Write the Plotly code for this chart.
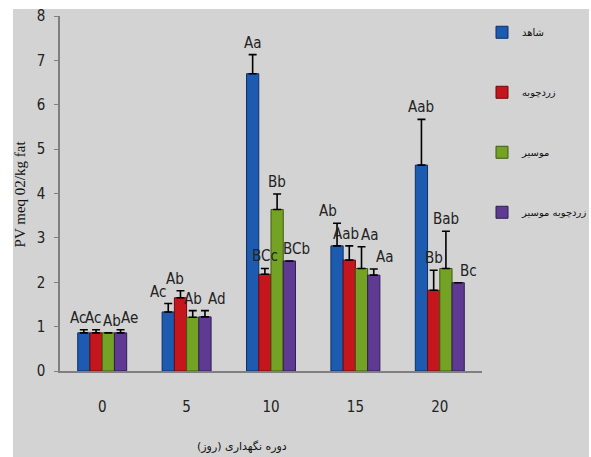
import plotly.graph_objects as go

# Storage period (days) and peroxide value per treatment
days = ["0", "5", "10", "15", "20"]
treatments = ["شاهد", "زردچوبه", "موسیر", "زردچوبه موسیر"]

pv_control = [0.86, 1.33, 6.70, 2.82, 4.64]
pv_turmeric = [0.86, 1.65, 2.18, 2.50, 1.82]
pv_shallot = [0.86, 1.21, 3.64, 2.31, 2.31]
pv_mix = [0.86, 1.22, 2.48, 2.16, 1.99]

err_control = [0.07, 0.19, 0.43, 0.51, 1.03]
err_turmeric = [0.07, 0.16, 0.13, 0.32, 0.45]
err_shallot = [0.0, 0.15, 0.35, 0.49, 0.84]
err_mix = [0.07, 0.14, 0.0, 0.14, 0.0]

lbl_control = ["Ac", "Ac", "Aa", "Ab", "Aab"]
lbl_turmeric = ["Ac", "Ab", "BCc", "Aab", "Bb"]
lbl_shallot = ["Ab", "Ab", "Bb", "Aa", "Bab"]
lbl_mix = ["Ae", "Ad", "BCb", "Aa", "Bc"]

values = [pv_control, pv_turmeric, pv_shallot, pv_mix]
errors = [err_control, err_turmeric, err_shallot, err_mix]
labels = [lbl_control, lbl_turmeric, lbl_shallot, lbl_mix]
fills = ["#1d5bb0", "#c4161c", "#74a225", "#5e3a92"]
edges = ["#0d2f66", "#6e0a0d", "#3e5a10", "#301d52"]

# small horizontal nudges (px) so neighbouring letter labels don't collide
label_nudge = [
    [-6, -10, 0, -9, 0],
    [-3, -5, 0, -3, 0],
    [4, 0, 0, 8, 0],
    [9, 12, 7, 11, 10],
]

LABEL_FONT = "DejaVu Sans Condensed, sans-serif"
BARGAP = 0.42
n = len(treatments)
bar_w = (1 - BARGAP) / n
xs = list(range(len(days)))

fig = go.Figure()

for j in range(n):
    fig.add_trace(go.Bar(
        x=xs, y=values[j], name=treatments[j], legendgroup=str(j),
        marker=dict(color=fills[j], line=dict(color=edges[j], width=1)),
        error_y=dict(type="data", array=errors[j], symmetric=False,
                     arrayminus=[0] * len(days), color="black",
                     thickness=1.6, width=4),
    ))

annotations = []
# letters of significance above each bar
for j in range(n):
    for i in xs:
        annotations.append(dict(
            x=i - (1 - BARGAP) / 2 + (j + 0.5) * bar_w, y=values[j][i] + errors[j][i],
            xref="x", yref="y", text=labels[j][i], showarrow=False,
            xanchor="center", yanchor="bottom", xshift=label_nudge[j][i], yshift=1,
            font=dict(family=LABEL_FONT, size=15, color="#222"),
        ))

annotations += [
    dict(text="PV meq 02/kg fat", xref="paper", yref="paper", x=-0.095, y=0.5,
         textangle=-90, showarrow=False, xanchor="center", yanchor="middle",
         font=dict(family="Liberation Serif", size=15, color="#111")),
    dict(text="دوره نگهداری (روز)", xref="paper", yref="paper", x=0.431, y=-0.214,
         showarrow=False, xanchor="center", yanchor="middle",
         font=dict(family="DejaVu Sans", size=11, color="#111")),
]

fig.update_layout(
    width=591, height=457,
    margin=dict(l=60, r=109, t=16, b=86, autoexpand=False),
    paper_bgcolor="white", plot_bgcolor="rgba(0,0,0,0)",
    barmode="group", bargap=BARGAP, bargroupgap=0,
    showlegend=True,
    legend=dict(x=1.0, y=0.995, xanchor="left", yanchor="top", itemwidth=30,
                bgcolor="rgba(0,0,0,0)", tracegroupgap=41,
                font=dict(family="DejaVu Sans", size=10, color="#111")),
    xaxis=dict(range=[-0.5, 4.5], tickmode="array", tickvals=xs, ticktext=days,
               showline=True, linecolor="#7f7f7f", linewidth=1.5, ticks="",
               showgrid=False, zeroline=False, ticklabelstandoff=21,
               tickfont=dict(family=LABEL_FONT, size=15, color="#222")),
    yaxis=dict(range=[0, 8], dtick=1, showline=True, linecolor="#7f7f7f", linewidth=1.5,
               ticks="outside", ticklen=4, tickcolor="#7f7f7f", showgrid=False,
               zeroline=False, ticklabelstandoff=6,
               tickfont=dict(family=LABEL_FONT, size=15, color="#222")),
    shapes=[dict(type="rect", xref="paper", yref="paper", layer="below",
                 x0=-0.1114, x1=1.2536, y0=-0.2423, y1=1.0197,
                 fillcolor="#d3d3d3", line=dict(width=0))],
    annotations=annotations,
)

fig.write_html("out.html")
